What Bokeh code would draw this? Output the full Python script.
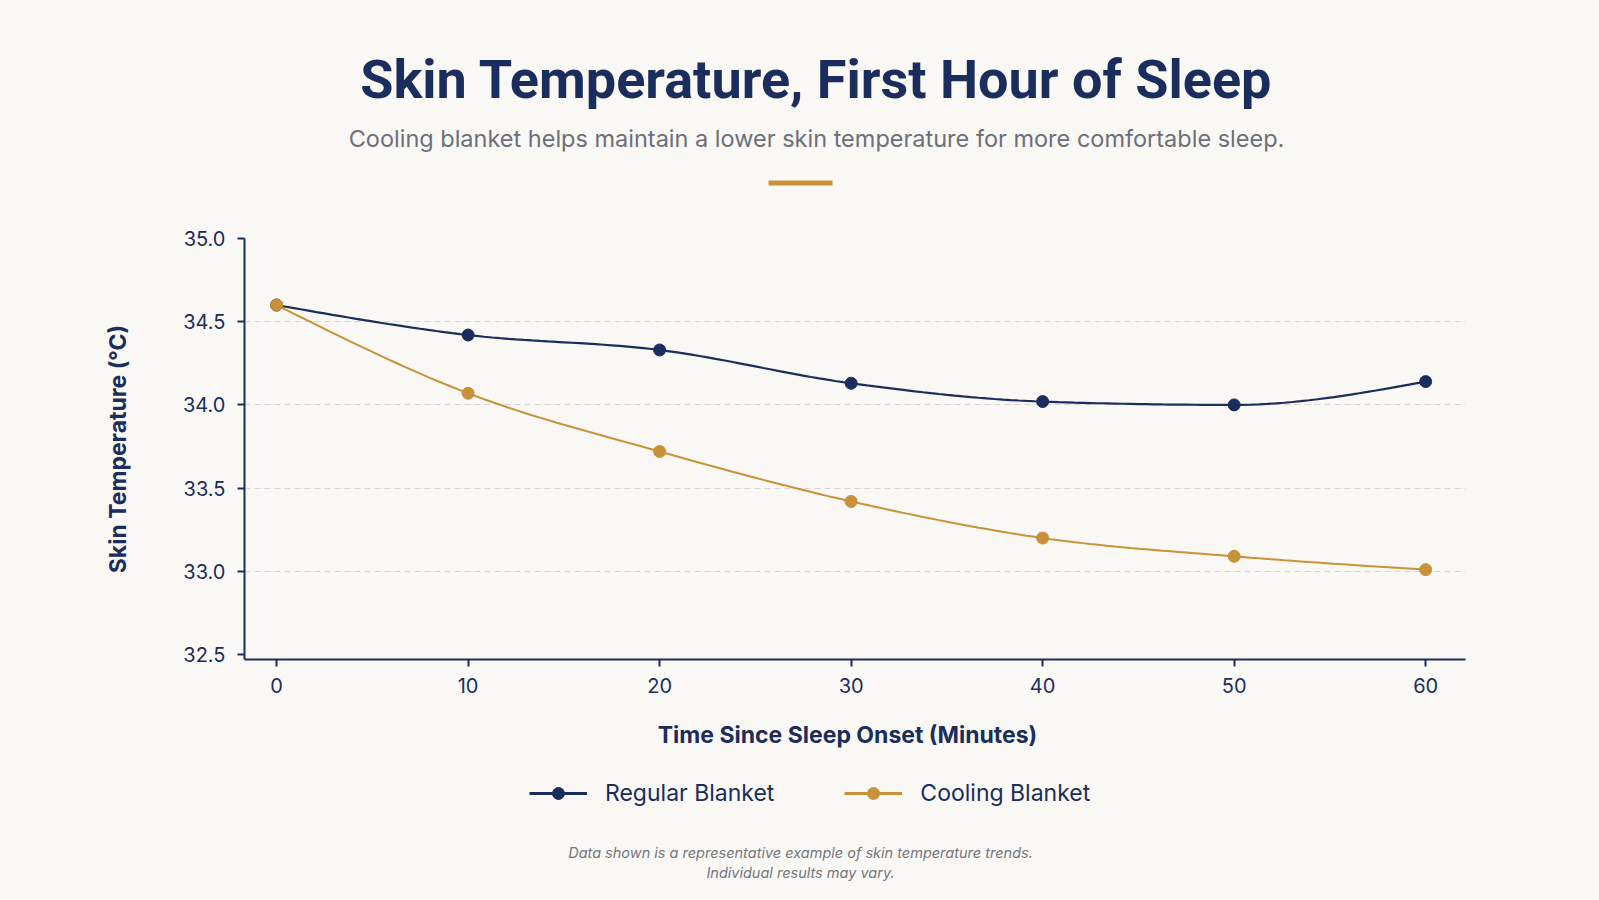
import numpy as np
from bokeh.plotting import figure
from bokeh.layouts import column
from bokeh.models import (Range1d, FixedTicker, Label, Legend, LegendItem,
                          BoxAnnotation, NumeralTickFormatter)
from bokeh.embed import file_html
from bokeh.resources import INLINE

# ---------------- data ----------------
minutes = [0, 10, 20, 30, 40, 50, 60]
regular = [34.60, 34.42, 34.33, 34.13, 34.02, 34.00, 34.14]
cooling = [34.60, 34.07, 33.72, 33.42, 33.20, 33.09, 33.01]
x_ticks = [0, 10, 20, 30, 40, 50, 60]
y_ticks = [32.5, 33.0, 33.5, 34.0, 34.5, 35.0]
grid_ticks = [33.0, 33.5, 34.0, 34.5]
series_names = ["Regular Blanket", "Cooling Blanket"]

title_text = "Skin Temperature, First Hour of Sleep"
subtitle_text = "Cooling blanket helps maintain a lower skin temperature for more comfortable sleep."
x_title = "Time Since Sleep Onset (Minutes)"
y_title = "Skin Temperature (\u00b0C)"
foot1 = "Data shown is a representative example of skin temperature trends."
foot2 = "Individual results may vary."

# ---------------- style ----------------
BG = "#faf8f4"
NAVY = "#1b2d5c"
GOLD = "#c8913a"
GRAY = "#6b6f7a"
FOOT = "#74767e"
GRID = "#d8d5cf"
BODY = "Inter"

W = 1599
FL, FR = 244, 1465
TOP_END = 215
MAIN_END = 708
H_TOP = TOP_END
H_MAIN = MAIN_END - TOP_END
H_BOT = 900 - MAIN_END
X0, X1 = -1.676, 62.08
Y0, Y1 = 32.47, 35.0


def monotone(xs, ys, n=24):
    xs = np.asarray(xs, float)
    ys = np.asarray(ys, float)
    h = np.diff(xs)
    s = np.diff(ys) / h
    m = len(xs)
    t = np.zeros(m)
    for i in range(1, m - 1):
        s0, s1 = s[i - 1], s[i]
        p_ = (s0 * h[i] + s1 * h[i - 1]) / (h[i - 1] + h[i])
        t[i] = (np.sign(s0) + np.sign(s1)) * min(abs(s0), abs(s1), 0.5 * abs(p_))
    t[0] = (3 * s[0] - t[1]) / 2
    t[-1] = (3 * s[-1] - t[-2]) / 2
    ox, oy = [], []
    for i in range(m - 1):
        u = np.linspace(0, 1, n, endpoint=(i == m - 2))
        h00 = 2 * u**3 - 3 * u**2 + 1
        h10 = u**3 - 2 * u**2 + u
        h01 = -2 * u**3 + 3 * u**2
        h11 = u**3 - u**2
        ox.extend(xs[i] + u * h[i])
        oy.extend(h00 * ys[i] + h10 * h[i] * t[i] + h01 * ys[i + 1] + h11 * h[i] * t[i + 1])
    return ox, oy


def strip(height, y_top, y_bottom):
    # frame spans the same columns as the chart frame; data units = page pixels
    f = figure(width=W, height=height, output_backend="svg", toolbar_location=None,
               x_range=Range1d(FL, FR), y_range=Range1d(y_bottom, y_top),
               x_axis_location=None, y_axis_location=None,
               min_border_left=FL, min_border_right=W - FR,
               min_border_top=0, min_border_bottom=0,
               background_fill_color=None, border_fill_color=None,
               outline_line_color=None)
    f.grid.visible = False
    return f


def lab(f, text, px, py, size, color, font=BODY, style="normal"):
    f.add_layout(Label(x=px, y=py, text=text, text_align="center",
                       text_baseline="middle", text_font=font,
                       text_font_size=size, text_color=color,
                       text_font_style=style))


# ---------------- header ----------------
top = strip(H_TOP, 0, TOP_END)
lab(top, title_text, 816, 79, "54px", NAVY, font="Roboto", style="bold")
lab(top, subtitle_text, 816, 138, "23.5px", GRAY)
top.add_layout(BoxAnnotation(left=768, right=832, top=180, bottom=185,
                             fill_color=GOLD, fill_alpha=1, line_color=None))

# ---------------- chart ----------------
p = figure(width=W, height=H_MAIN, output_backend="svg", toolbar_location=None,
           x_range=Range1d(X0, X1), y_range=Range1d(Y0, Y1),
           min_border_left=FL, min_border_right=W - FR,
           min_border_top=238 - TOP_END, min_border_bottom=MAIN_END - 659,
           background_fill_color=None, border_fill_color=None,
           outline_line_color=None)

for ax in (p.xaxis[0], p.yaxis[0]):
    ax.axis_line_color = NAVY
    ax.axis_line_width = 2
    ax.major_tick_line_color = NAVY
    ax.major_tick_line_width = 2
    ax.major_tick_out = 7
    ax.major_tick_in = 0
    ax.minor_tick_line_color = None
    ax.major_label_text_color = NAVY
    ax.major_label_text_font = BODY
    ax.major_label_text_font_size = "20px"
    ax.axis_label_text_color = NAVY
    ax.axis_label_text_font = BODY
    ax.axis_label_text_font_style = "bold"

p.xaxis.ticker = FixedTicker(ticks=x_ticks)
p.yaxis.ticker = FixedTicker(ticks=y_ticks)
p.yaxis.formatter = NumeralTickFormatter(format="0.0")
p.xaxis.major_label_standoff = 11
p.yaxis.major_label_standoff = 12
p.yaxis.axis_label = y_title
p.yaxis.axis_label_text_font_size = "23px"
p.yaxis.axis_label_standoff = 48

p.xgrid.grid_line_color = None
p.ygrid.ticker = FixedTicker(ticks=grid_ticks)
p.ygrid.grid_line_color = GRID
p.ygrid.grid_line_dash = "6 4"
p.ygrid.grid_line_width = 1

rx, ry = monotone(minutes, regular)
cx, cy = monotone(minutes, cooling)
p.line(rx, ry, line_color=NAVY, line_width=2.2)
p.line(cx, cy, line_color=GOLD, line_width=2)
p.scatter(minutes, regular, size=12, fill_color=NAVY, line_color=NAVY)
p.scatter(minutes, cooling, size=12, fill_color=GOLD, line_color=GOLD)

# ---------------- x title, legend, footnote ----------------
bot = strip(H_BOT, MAIN_END, 900)
lab(bot, x_title, 847, 734, "23px", NAVY, style="bold")

colors = [NAVY, GOLD]
series = [regular, cooling]
items = []
for name, c, vals in zip(series_names, colors, series):
    # legend samples: the series drawn in this strip fall outside its frame
    lr = bot.line(minutes, vals, line_color=c, line_width=3)
    sr = bot.scatter(minutes, vals, size=12, fill_color=c, line_color=c)
    items.append(LegendItem(label=name, renderers=[lr, sr]))
legend = Legend(items=items, orientation="horizontal", location=(529 - FL, 900 - 808),
                glyph_width=58, glyph_height=30, label_standoff=18, spacing=70,
                padding=0, margin=0, border_line_color=None,
                background_fill_alpha=0,
                label_text_font=BODY, label_text_font_size="23px",
                label_text_color=NAVY)
bot.add_layout(legend, "center")
lab(bot, foot1, 800, 852, "14.5px", FOOT, style="italic")
lab(bot, foot2, 800, 872, "14.5px", FOOT, style="italic")

layout = column(top, p, bot, spacing=0, styles={"background-color": BG})
open("out.html", "w").write(file_html(layout, INLINE))
